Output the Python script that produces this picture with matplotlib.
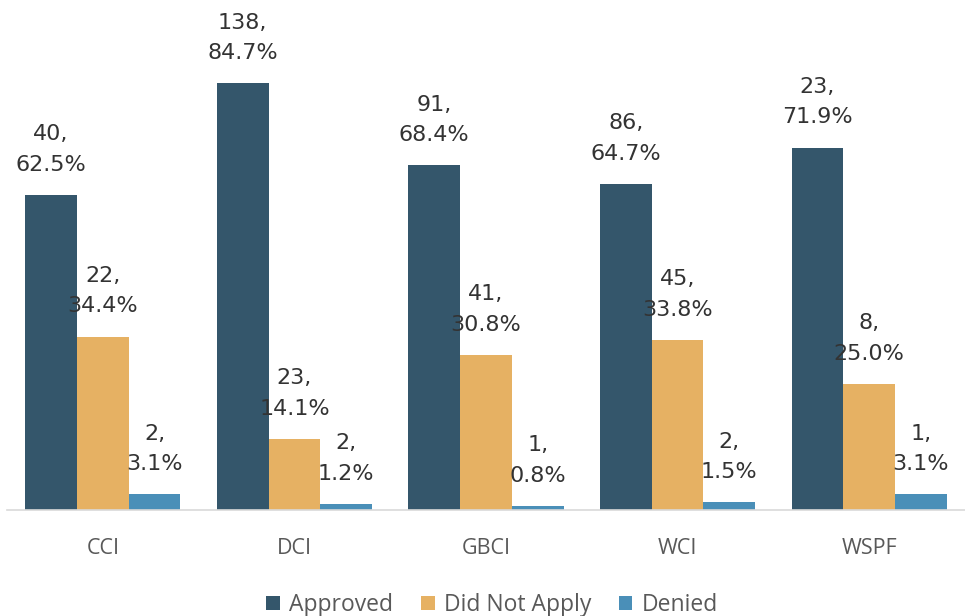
import numpy as np
import matplotlib.pyplot as plt

categories = ['CCI', 'DCI', 'GBCI', 'WCI', 'WSPF']
series = ['Approved', 'Did Not Apply', 'Denied']
counts = {
    'Approved': [40, 138, 91, 86, 23],
    'Did Not Apply': [22, 23, 41, 45, 8],
    'Denied': [2, 2, 1, 2, 1],
}
pcts = {
    'Approved': [62.5, 84.7, 68.4, 64.7, 71.9],
    'Did Not Apply': [34.4, 14.1, 30.8, 33.8, 25.0],
    'Denied': [3.1, 1.2, 0.8, 1.5, 3.1],
}
colors = {'Approved': '#34566b', 'Did Not Apply': '#e6b163', 'Denied': '#4a8fb8'}

plt.rcParams['font.family'] = ['Open Sans', 'DejaVu Sans']

fig = plt.figure(figsize=(9.65, 6.16), dpi=100)
ax = fig.add_axes([7 / 965, 106 / 616, 958 / 965, 504 / 616])

x = np.arange(len(categories))
w = 0.27
for i, s in enumerate(series):
    pos = x + (i - 1) * w
    ax.bar(pos, pcts[s], width=w, color=colors[s], label=s)
    for xp, p, c in zip(pos, pcts[s], counts[s]):
        ax.annotate(f'{c},\n{p:.1f}%', (xp, p), xytext=(0, 14.5), textcoords='offset points',
                    ha='center', va='bottom', fontsize=16, color='#333333',
                    family='DejaVu Sans', linespacing=1.65, annotation_clip=False)

ax.set_xlim(-0.5, 4.5)
ax.set_ylim(0, 100)
ax.set_xticks(x)
ax.set_xticklabels(categories, fontsize=15.5, color='#595959')
ax.tick_params(axis='x', length=0, pad=20)
ax.set_yticks([])
for sp in ['top', 'right', 'left']:
    ax.spines[sp].set_visible(False)
ax.spines['bottom'].set_color('#d9d9d9')
ax.spines['bottom'].set_linewidth(1.2)

handles, labels = ax.get_legend_handles_labels()
fig.legend(handles, labels, loc='lower center', bbox_to_anchor=(0.51, -0.035), ncol=3,
           frameon=False, fontsize=16.5, handlelength=0.6, handleheight=0.6,
           handletextpad=0.4, columnspacing=1.2, labelcolor='#595959')

fig.savefig('out.png', dpi=100)
